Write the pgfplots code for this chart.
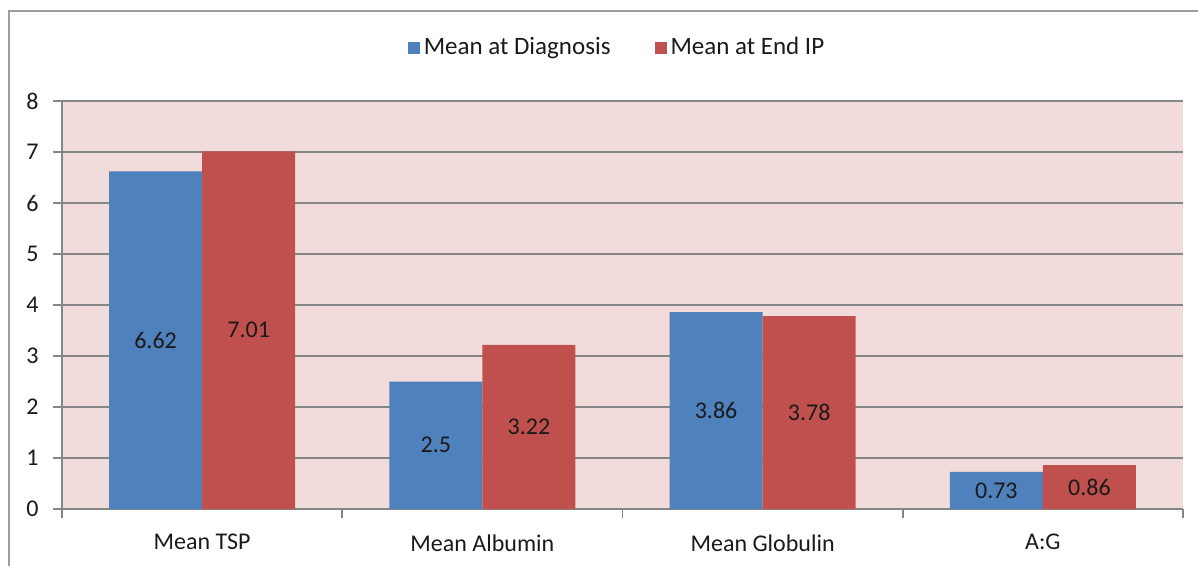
\documentclass[border=0pt]{standalone}
\usepackage{fontspec}
\setmainfont{Carlito}
\usepackage{pgfplots}
\pgfplotsset{compat=1.18}
\definecolor{xlblue}{HTML}{4F81BD}
\definecolor{xlred}{HTML}{C0504D}
\definecolor{xlpink}{HTML}{F2DCDB}
\definecolor{xlgrid}{HTML}{868686}
\definecolor{xltext}{HTML}{1A1A1A}
\begin{document}
\fontsize{12bp}{14bp}\selectfont
\begin{tikzpicture}
\useasboundingbox (-31bp,-28.5bp) rectangle (568bp,254.5bp);
\draw[xlgrid!80, line width=0.8bp] (-26.5bp,-40bp) -- (-26.5bp,249bp) -- (580bp,249bp);
\begin{axis}[
  at={(0,0)}, anchor=south west,
  scale only axis, width=560.5bp, height=204bp,
  xmin=-0.5, xmax=3.5, ymin=0, ymax=8,
  axis x line=bottom, axis y line=left,
  axis line style={xlgrid, line width=0.8bp, -},
  axis background/.style={fill=xlpink},
  xtick={0,1,2,3},
  xticklabels={Mean TSP, Mean Albumin, Mean Globulin, A:G},
  major x tick style={draw=none},
  minor xtick={-0.5,0.5,1.5,2.5,3.5},
  minor x tick style={xlgrid, line width=0.8bp},
  ytick={0,1,...,8},
  tick align=outside,
  major tick length=4.5bp, minor tick length=4.5bp,
  y tick style={xlgrid, line width=0.8bp},
  ymajorgrids, grid style={xlgrid, line width=0.8bp},
  yticklabel style={xshift=-3bp},
  xticklabel style={yshift=-4bp},
  ticklabel style={font=\fontsize{12bp}{14bp}\selectfont, text=xltext},
  /pgf/number format/assume math mode=true,
  bar width=0.332,
  legend style={at={(0.496,1.13)}, anchor=center, draw=none, fill=none,
    legend columns=2, font=\fontsize{12.5bp}{14bp}\selectfont, text=xltext,
    /tikz/every even column/.append style={column sep=20bp}},
  legend image code/.code={\fill[#1] (-2.5bp,-3bp) rectangle (3.5bp,3bp);},
  visualization depends on=y \as \rawy,
  point meta=explicit symbolic,
]
\addplot[ybar, bar shift=-0.166, fill=xlblue, draw=none,
  nodes near coords,
  nodes near coords style={anchor=center, font=\fontsize{12bp}{14bp}\selectfont, text=xltext,
    shift={(axis direction cs:-0.166,-\rawy/2)}}] coordinates
  {(0,6.62) [6.62] (1,2.5) [2.5] (2,3.86) [3.86] (3,0.73) [0.73]};
\addplot[ybar, bar shift=0.166, fill=xlred, draw=none,
  nodes near coords,
  nodes near coords style={anchor=center, font=\fontsize{12bp}{14bp}\selectfont, text=xltext,
    shift={(axis direction cs:0.166,-\rawy/2)}}] coordinates
  {(0,7.01) [7.01] (1,3.22) [3.22] (2,3.78) [3.78] (3,0.86) [0.86]};
\legend{Mean at Diagnosis, Mean at End IP}
\end{axis}
\end{tikzpicture}
\end{document}
